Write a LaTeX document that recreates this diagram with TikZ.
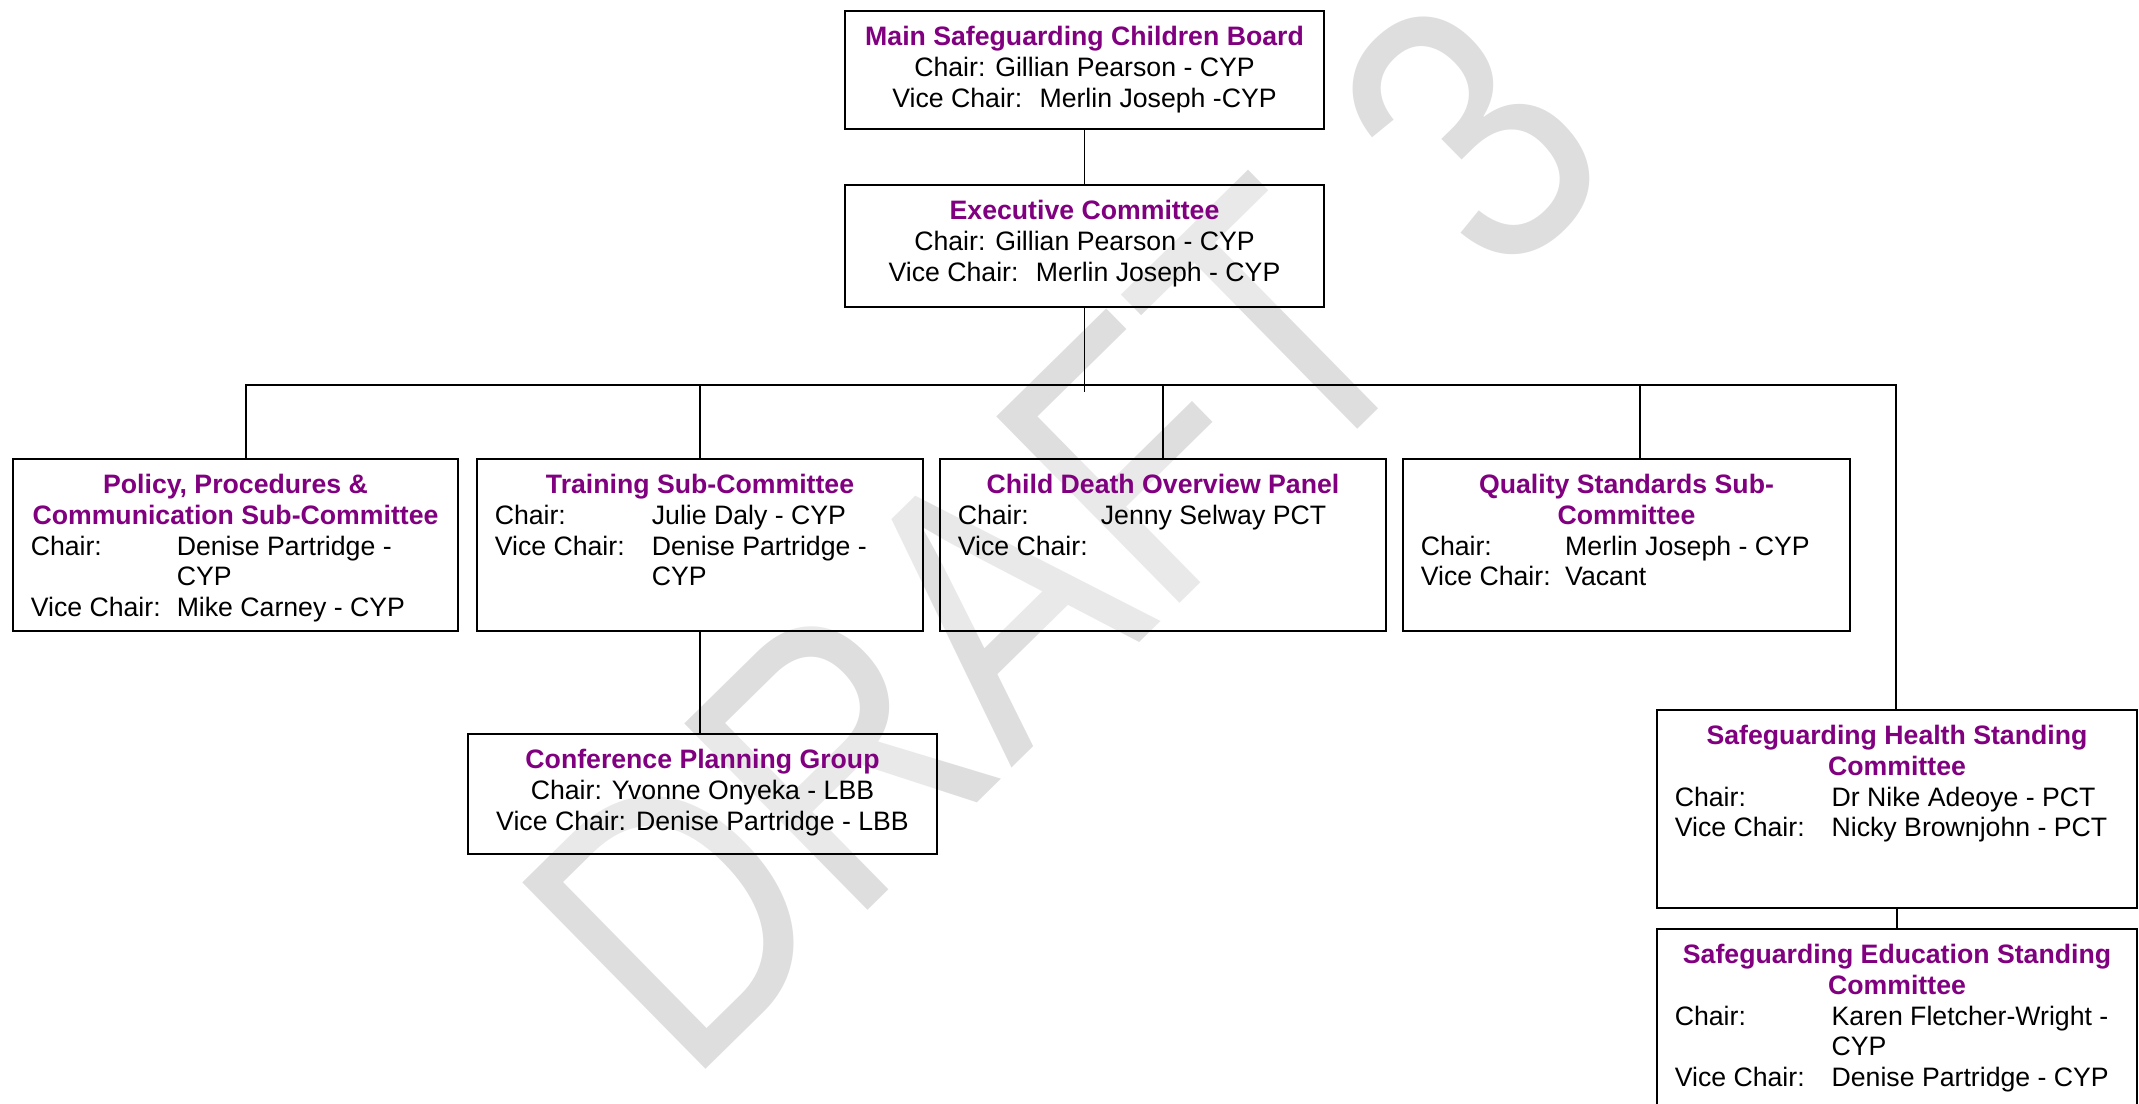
\documentclass[tikz,border=0pt]{standalone}
\usepackage{fontspec}
\setmainfont{Liberation Sans}
\usepackage{xcolor}
\usepackage{tikz}
\usetikzlibrary{positioning,calc}

\definecolor{boardpurple}{RGB}{128,0,128}
\definecolor{draftgray}{RGB}{222,222,222}

% box text: width, height, content (top aligned)
\newcommand{\boxtext}[3]{\parbox[c][#2][t]{#1}{\strut#3}}
\newcommand{\boardtitle}[1]{{\centering\color{boardpurple}\bfseries #1\par}}
\newcommand{\chairrow}[3][66pt]{\makebox[#1][l]{#2}#3}

\begin{document}
\begin{tikzpicture}[x=0.45pt, y=-0.45pt,
    board/.style={draw, line width=0.9pt, anchor=north west, inner xsep=8pt, inner ysep=6pt,
      fill=white, fill opacity=0.35, text opacity=1, font=\fontsize{12}{13.8}\selectfont},
    link/.style={line width=0.7pt},
    draftmark/.style={rotate=44.5, inner sep=0pt, text=draftgray, font=\fontsize{171}{171}\selectfont}]
    \useasboundingbox (0,0) rectangle (2139,1104);

    \node[draftmark] (draft) at (1064,534) {\scalebox{0.83}[1]{DRAFT 3}};

    \node[board] (main) at (844,10) {\boxtext{199.55pt}{41.1pt}{\boardtitle{Main Safeguarding Children Board}
        \centering Chair: Gillian Pearson - CYP\\ Vice Chair:~ Merlin Joseph -CYP}};
    \node[board] (exec) at (844,184) {\boxtext{199.55pt}{42.9pt}{\boardtitle{Executive Committee}
        \centering Chair: Gillian Pearson - CYP\\ Vice Chair:~ Merlin Joseph - CYP}};

    \node[board] (policy) at (12,458) {\boxtext{184.25pt}{65.4pt}{\boardtitle{Policy, Procedures \&\\ Communication Sub-Committee}
        \chairrow[65.7pt]{Chair:}{Denise Partridge -}\\
        \chairrow[65.7pt]{}{CYP}\\
        \chairrow[65.7pt]{Vice Chair:}{Mike Carney - CYP}}};
    \node[board] (training) at (476,458) {\boxtext{184.7pt}{65.4pt}{\boardtitle{Training Sub-Committee}
        \chairrow[70.7pt]{Chair:}{Julie Daly - CYP}\\
        \chairrow[70.7pt]{Vice Chair:}{Denise Partridge -}\\
        \chairrow[70.7pt]{}{CYP}}};
    \node[board] (cdop) at (939,458) {\boxtext{184.7pt}{65.4pt}{\boardtitle{Child Death Overview Panel}
        \chairrow[64.4pt]{Chair:}{Jenny Selway PCT}\\
        \chairrow[64.4pt]{Vice Chair:}{}}};
    \node[board] (quality) at (1402,458) {\boxtext{185.15pt}{65.4pt}{\boardtitle{Quality Standards Sub-\\ Committee}
        \chairrow[65pt]{Chair:}{Merlin Joseph - CYP}\\
        \chairrow[65pt]{Vice Chair:}{Vacant}}};

    \node[board] (conference) at (467,733) {\boxtext{195.05pt}{42pt}{\boardtitle{Conference Planning Group}
        \centering Chair: Yvonne Onyeka - LBB\\ Vice Chair: Denise Partridge - LBB}};

    \node[board] (health) at (1656,709) {\boxtext{200pt}{77.1pt}{\boardtitle{Safeguarding Health Standing\\ Committee}
        \chairrow[70.6pt]{Chair:}{Dr Nike Adeoye - PCT}\\
        \chairrow[70.6pt]{Vice Chair:}{Nicky Brownjohn - PCT}}};
    \node[board] (education) at (1656,928) {\boxtext{200pt}{78pt}{\boardtitle{Safeguarding Education Standing\\ Committee}
        \chairrow[70.6pt]{Chair:}{Karen Fletcher-Wright -}\\
        \chairrow[70.6pt]{}{CYP}\\
        \chairrow[70.6pt]{Vice Chair:}{Denise Partridge - CYP}}};

    % connectors
    \coordinate (busleft) at (246,385);
    \coordinate (busright) at (1896,385);
    \coordinate (qualtap) at (1640,385);
    \draw[link] (main.south) -- (exec.north);
    \draw[link] (exec.south) -- ([yshift=-3pt]exec.south |- busleft);
    \draw[link] (busleft |- policy.north) -- (busleft) -- (busright) -- (busright |- health.north);
    \draw[link] (training.north) -- (training.north |- busleft);
    \draw[link] (cdop.north) -- (cdop.north |- busleft);
    \draw[link] (qualtap) -- (qualtap |- quality.north);
    \draw[link] (training.south) -- (training.south |- conference.north);
    \draw[link] (health.south) -- (education.north);
\end{tikzpicture}
\end{document}
